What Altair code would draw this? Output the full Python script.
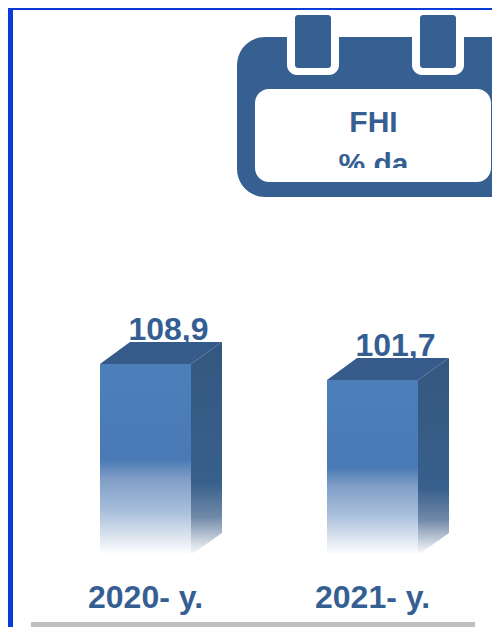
import altair as alt
import pandas as pd

years = ["2020- y.", "2021- y."]
values = [108.9, 101.7]
value_labels = ["108,9", "101,7"]
card_title = "FHI"
card_subtitle = "% da"

BLUE = "#366092"
FONT = "Liberation Sans"
W, H = 484, 619
BASE = 22.9
PX_Y = 2.222   # pixels per unit
PX_X = 227.0   # pixels between bars
HALF = 45.5
DEPTH_X = 31
DEPTH_Y = 22

x_scale = alt.Scale(domain=[-137.5 / PX_X, (W - 137.5) / PX_X], nice=False, zero=False)
y_scale = alt.Scale(domain=[108.9 - (H - 356) / PX_Y, 108.9 + 356 / PX_Y], nice=False, zero=False)
X = lambda f: alt.X(f, type="quantitative", scale=x_scale, axis=None)
Y = lambda f: alt.Y(f, type="quantitative", scale=y_scale, axis=None)

bars = pd.DataFrame({"i": range(len(years)), "year": years, "v": values,
                     "label": value_labels, "base": BASE})
bars["xl"] = bars.i - HALF / PX_X
bars["xr"] = bars.i + HALF / PX_X

side_rows = []
for i, v in enumerate(values):
    dy = DEPTH_Y / PX_Y
    side_rows.append({"i": i, "x": i + HALF / PX_X, "y": v, "y2": BASE})
    side_rows.append({"i": i, "x": i + (HALF + DEPTH_X) / PX_X, "y": v + dy, "y2": BASE + dy})
side = pd.DataFrame(side_rows)


def grad(stops):
    return alt.Gradient(gradient="linear", x1=0, y1=0, x2=0, y2=1,
                        stops=[alt.GradientStop(offset=o, color=c) for o, c in stops])


front = alt.Chart(bars).mark_rect(fill=grad([
    (0, "#4c7fba"), (0.5, "#4a7ab5"), (0.6, "#7f9dc6"), (0.77, "#a8bfdb"),
    (0.92, "#e2e9f2"), (1, "#ffffff")
])).encode(x=X("xl"), x2="xr", y=Y("v"), y2="base")

side_face = alt.Chart(side).mark_area(fill=grad([
    (0, "#34577f"), (0.66, "#38608c"), (0.82, "#7089a8"), (1, "#ffffff")
])).encode(x=X("x"), y=Y("y"), y2="y2", detail="i:N")

top_path = f"M{-HALF} 0L{-HALF + 30} {-DEPTH_Y}L{HALF + DEPTH_X} {-DEPTH_Y}L{HALF} 0Z"
top_face = alt.Chart(bars).mark_point(
    shape=top_path, size=4, filled=True, fill="#365b8b", opacity=1, strokeWidth=0
).encode(x=X("i"), y=Y("v"))

val_text = alt.Chart(bars).mark_text(
    font=FONT, fontWeight="bold", fontSize=32, color="#355f92", dx=23, dy=-24,
    baseline="alphabetic", align="center"
).encode(x=X("i"), y=Y("v"), text="label:N")

year_text = alt.Chart(bars).mark_text(
    font=FONT, fontWeight="bold", fontSize=32, color="#355f92",
    baseline="alphabetic", align="center"
).encode(x=X("i"), y=alt.value(600), text="year:N")

blank = alt.Data(values=[{"a": 1}])


def rect(x0, y0, x1, y1, color, r=0):
    return alt.Chart(blank).mark_rect(color=color, cornerRadius=r).encode(
        x=alt.value(x0 - 8), x2=alt.value(x1 - 8), y=alt.value(y0 - 8), y2=alt.value(y1 - 8))


def label(text, x, y, size=30):
    return alt.Chart(alt.Data(values=[{"t": text}])).mark_text(
        font=FONT, fontWeight="bold", fontSize=size, color="#355f92",
        baseline="alphabetic", align="center"
    ).encode(x=alt.value(x - 8), y=alt.value(y - 8), text="t:N")


calendar = [
    rect(237, 37, 525, 197, BLUE, 28),
    rect(287, 20, 339, 75, "#ffffff", 10),
    rect(412, 20, 464, 75, "#ffffff", 10),
    rect(295, 15, 331, 68, BLUE, 3),
    rect(420, 15, 456, 68, BLUE, 3),
    rect(255, 89, 491, 182, "#ffffff", 14),
    label(card_title, 373.5, 132),
    label(card_subtitle, 373.5, 174),
    rect(300, 168, 450, 181, "#ffffff"),
]

borders = [
    rect(8, 8, 13, 627, "#0a3bd6"),
    rect(8, 8, 492, 10, "#0a3bd6"),
]
baseline_rule = rect(31, 622, 475, 627, "#bfbfbf")

chart = alt.layer(
    *calendar, *borders, front, side_face, top_face, val_text, year_text, baseline_rule
).properties(
    width=W, height=H, padding=0, autosize=alt.AutoSizeParams(type="none")
).configure_view(stroke=None)

chart.save("out.html", embed_options={"renderer": "svg", "actions": False})
